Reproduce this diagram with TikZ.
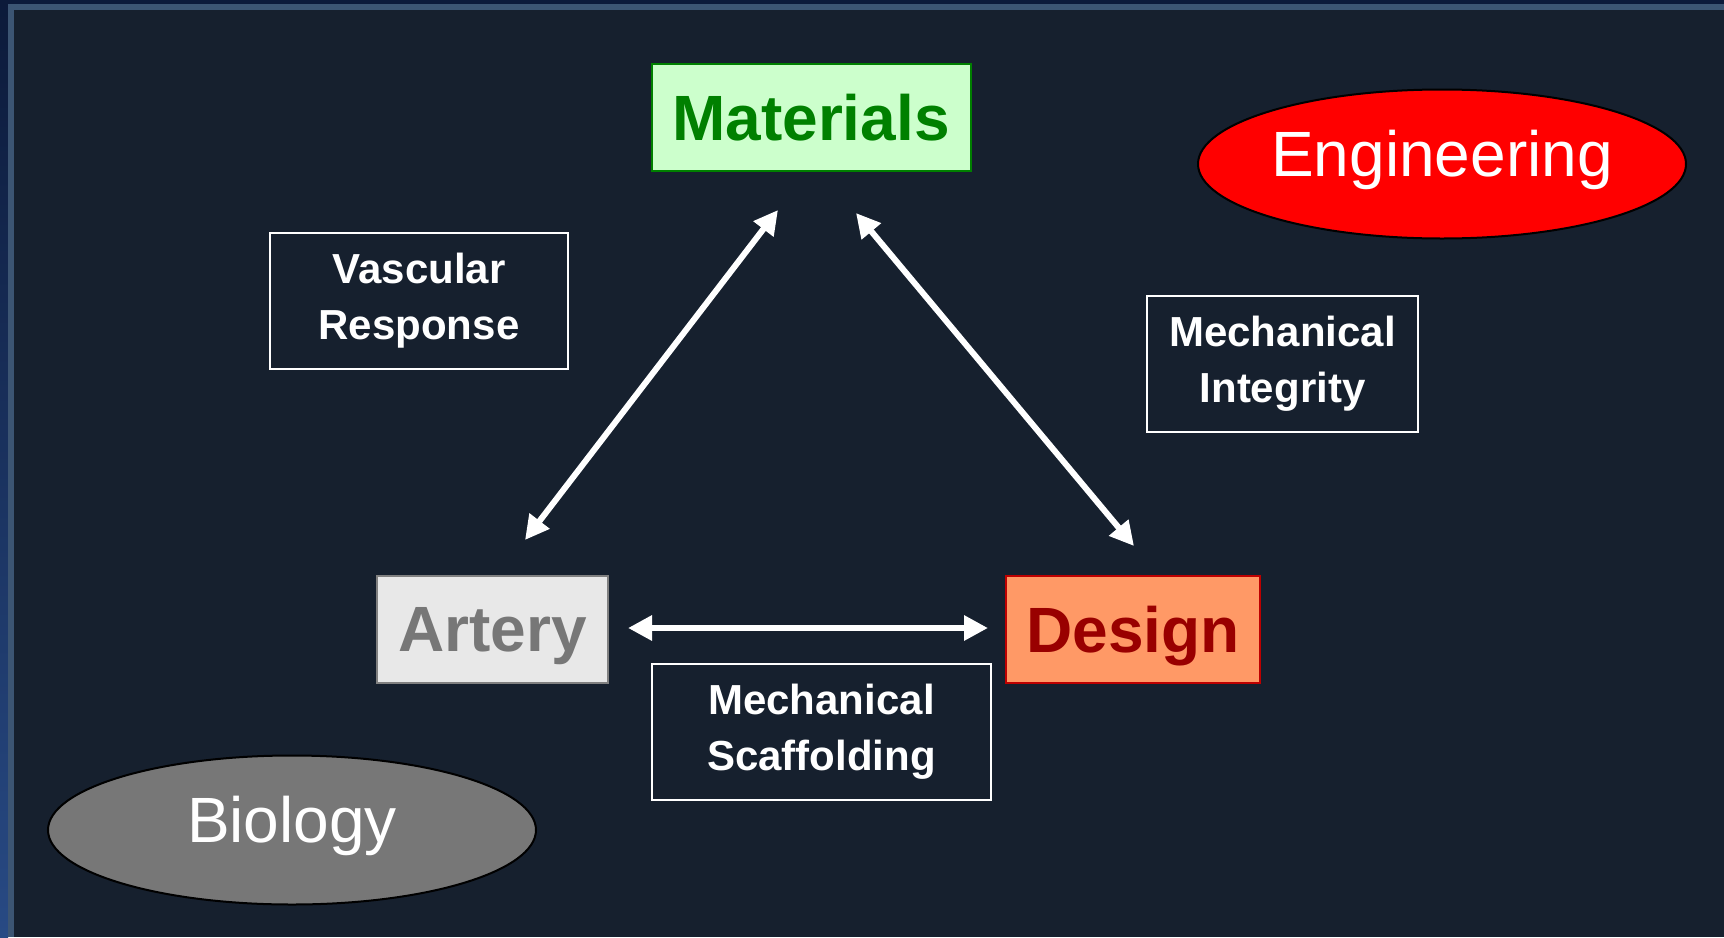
\documentclass[tikz,border=0pt]{standalone}
\usepackage{fontspec}
\setmainfont{Liberation Sans}
\usepackage{tikz}
\usetikzlibrary{arrows.meta,shapes,positioning}
\definecolor{slidebg}{RGB}{22,32,46}
\definecolor{slideedge}{RGB}{60,85,115}
\definecolor{navyedge}{RGB}{12,26,58}
\definecolor{blueedge}{RGB}{40,74,132}
\definecolor{matfill}{RGB}{204,255,204}
\definecolor{matgreen}{RGB}{0,128,0}
\definecolor{artfill}{RGB}{232,232,232}
\definecolor{artgray}{RGB}{119,119,119}
\definecolor{artline}{RGB}{128,128,128}
\definecolor{desfill}{RGB}{255,153,102}
\definecolor{desred}{RGB}{153,0,0}
\definecolor{desline}{RGB}{190,0,0}

\begin{document}
\begin{tikzpicture}[x=1pt, y=-1pt,
  topic/.style={draw, line width=2pt, inner sep=0pt, minimum height=107pt, text depth=0pt,
                font=\fontsize{64}{64}\selectfont\bfseries},
  link/.style={draw=white, line width=2pt, inner sep=0pt, minimum height=136pt,
               align=center, text=white, font=\fontsize{42}{56}\selectfont\bfseries},
  field/.style={ellipse, draw=black, line width=2pt, inner sep=0pt, text=white, text depth=22pt,
                minimum width=488pt, minimum height=149pt, font=\fontsize{64}{64}\selectfont},
  twoway/.style={{Triangle[length=24pt,width=24pt]}-{Triangle[length=24pt,width=24pt]},
                 line width=6pt, white},
]
\useasboundingbox (0,0) rectangle (1724,937);
\fill[slidebg] (0,0) rectangle (1724,937);
\shade[top color=navyedge, bottom color=blueedge] (0,0) rectangle (8,937);
\fill[navyedge] (8,0) rectangle (1724,4);
\fill[slideedge] (8,4) rectangle (1724,10);
\fill[slideedge] (8,4) rectangle (14,937);

\node[topic, fill=matfill, draw=matgreen, text=matgreen, minimum width=319pt] (materials) at (811,117.5) {Materials};
\node[topic, fill=artfill, draw=artline, text=artgray, minimum width=231pt] (artery) at (492.5,629) {Artery};
\node[topic, fill=desfill, draw=desline, text=desred, minimum width=254pt] (design) at (1133,629.5) {Design};

\node[field, fill=red] (engineering) at (1442,164) {Engineering};
\node[field, fill=artgray] (biology) at (292,830) {Biology};

\node[link, minimum width=298pt] (vascular) at (419,301) {Vascular\\Response};
\node[link, minimum width=271pt] (integrity) at (1282.5,364) {Mechanical\\Integrity};
\node[link, minimum width=339pt] (scaffold) at (821.5,732) {Mechanical\\Scaffolding};

\coordinate (am) at (525,540);
\coordinate (ma) at (778,210);
\coordinate (md) at (856,213);
\coordinate (dm) at (1134,546);
\coordinate (ad) at (628,628);
\coordinate (da) at (988,628);

\draw[twoway] (am) -- (ma);
\draw[twoway] (md) -- (dm);
\draw[twoway] (ad) -- (da);
\end{tikzpicture}
\end{document}
